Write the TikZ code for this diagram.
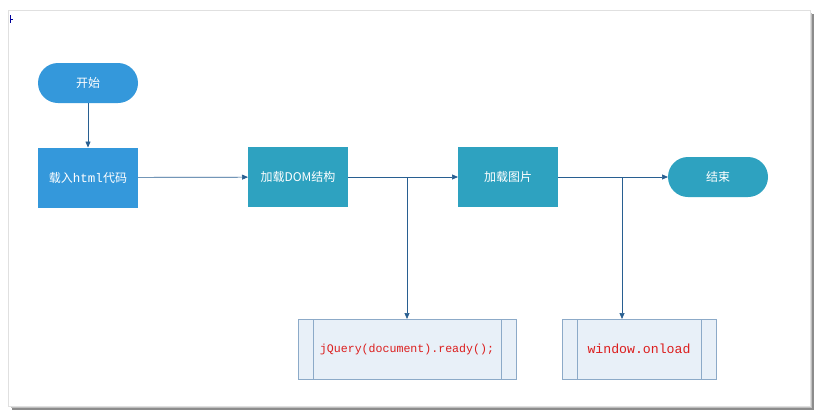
\documentclass[tikz,border=0pt]{standalone}
\usepackage{fontspec}
\setmainfont{Liberation Sans}
\newfontfamily\cjk{Noto Sans CJK SC}
\newfontfamily\monof{Liberation Mono}
\usetikzlibrary{arrows.meta}
\definecolor{bluebox}{RGB}{52,152,219}
\definecolor{tealbox}{RGB}{46,162,192}
\definecolor{lineblue}{RGB}{40,95,145}
\definecolor{notefill}{RGB}{232,240,248}
\definecolor{noteedge}{RGB}{140,170,200}
\definecolor{codered}{RGB}{220,30,30}
\tikzset{
  every node/.style={inner sep=0pt, outer sep=0pt},
  procbox/.style={draw=none, minimum width=100pt, minimum height=60pt, text=white, font=\cjk\fontsize{12}{14}\selectfont},
  termbox/.style={draw=none, rounded corners=20pt, minimum width=100pt, minimum height=40pt, text=white, font=\cjk\fontsize{12}{14}\selectfont},
  notebox/.style={draw=noteedge, fill=notefill, line width=0.6pt, minimum height=60pt, text=codered},
  conn/.style={draw=lineblue, line width=0.7pt, -{Triangle[length=6pt,width=5pt]}},
  plain/.style={draw=lineblue, line width=0.7pt}
}
\begin{document}
\begin{tikzpicture}[x=1pt,y=-1pt]
\useasboundingbox (0,0) rectangle (819,416);
% frame with shadow
\fill[black!45] (12,14) rectangle (814,410);
\fill[black!25] (11,13) rectangle (812,408);
\fill[white] (8,10) rectangle (810,406);
\draw[black!12, line width=0.5pt] (8,10) rectangle (810,406);
% small mark
\draw[blue!60!black, line width=0.6pt] (10,15) -- (10,23) (10,19) -- (13,19);
% nodes
\node[termbox, fill=bluebox] (start) at (88,83) {开始};
\node[procbox, fill=bluebox] (load) at (88,177.5) {载入{\monof\fontsize{12.5}{14}\selectfont html}代码};
\node[procbox, fill=tealbox] (dom) at (298,177) {加载DOM结构};
\node[procbox, fill=tealbox] (img) at (508,177) {加载图片};
\node[termbox, fill=tealbox] (end) at (718,177) {结束};
\node[notebox, minimum width=218pt, font=\monof\fontsize{11.6}{13}\selectfont] (jq) at (407,349) {jQuery(document).ready();};
\node[notebox, minimum width=154pt, font=\monof\fontsize{13.2}{15}\selectfont] (wo) at (639,349) {window.onload};
\draw[noteedge, line width=0.6pt] ([xshift=15pt]jq.north west) -- ([xshift=15pt]jq.south west);
\draw[noteedge, line width=0.6pt] ([xshift=-15pt]jq.north east) -- ([xshift=-15pt]jq.south east);
\draw[noteedge, line width=0.6pt] ([xshift=15pt]wo.north west) -- ([xshift=15pt]wo.south west);
\draw[noteedge, line width=0.6pt] ([xshift=-15pt]wo.north east) -- ([xshift=-15pt]wo.south east);
% connectors
\draw[conn] (start) -- (load);
\draw[conn] (load) -- (dom);
\draw[conn] (dom) -- (img);
\draw[conn] (img) -- (end);
\coordinate (b1) at (407,177);
\coordinate (b2) at (622,177);
\draw[conn] (b1) -- (jq.north);
\draw[conn] (b2) -- (b2 |- wo.north);
\end{tikzpicture}
\end{document}
